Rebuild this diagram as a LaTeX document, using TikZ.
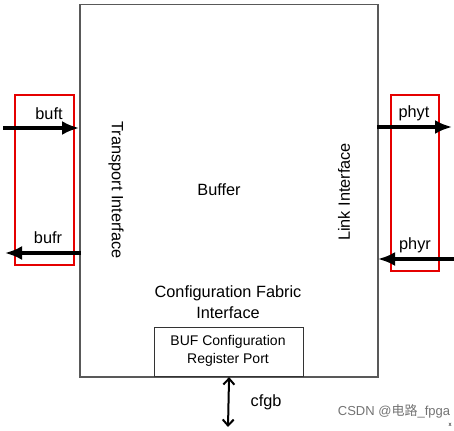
\documentclass[tikz,border=0pt]{standalone}
\usepackage{fontspec}
\setmainfont{Liberation Sans}
\newfontfamily\cjkfont{Noto Sans CJK SC}
\usetikzlibrary{arrows.meta}
\begin{document}
\begin{tikzpicture}[x=1pt,y=-1pt,
  lbl/.style={font=\fontsize{16.3}{19}\selectfont, inner sep=0pt},
  sig/.style={line width=3.2pt, -{Latex[length=17pt,width=14pt]}},
  redbox/.style={draw=red!90!black, line width=2.4pt},
  mainbox/.style={draw=black!65, line width=1.5pt}]
\useasboundingbox (0,0) rectangle (454,430);
% main box
\node[mainbox, minimum width=298pt, minimum height=372pt, anchor=north west, inner sep=0pt] (main) at (79,4) {};
% config box
\node[draw=black!80, line width=1.1pt, minimum width=149pt, minimum height=49pt, anchor=north west, inner sep=0pt] (cfgbox) at (154,327) {};
\node[lbl, align=center, font=\fontsize{14}{18.5}\selectfont] (cfgtxt) at (228,351) {BUF Configuration\\Register Port};
% texts
\node[lbl] (buffer) at (219,190) {Buffer};
\node[lbl, align=center, font=\fontsize{16.3}{21}\selectfont] (cfi) at (228,302) {Configuration Fabric\\Interface};
\node[lbl, rotate=-90] (tif) at (116,190) {Transport Interface};
\node[lbl, rotate=90] (lif) at (344,192) {Link Interface};
% red boxes
\node[redbox, minimum width=59pt, minimum height=170pt, anchor=north west, inner sep=0pt] (lred) at (14,94) {};
\node[redbox, minimum width=48pt, minimum height=176pt, anchor=north west, inner sep=0pt] (rred) at (390,94) {};
% coordinates
\coordinate (bufts) at (3,128);
\coordinate (buftt) at (79,128);
\coordinate (bufrs) at (81,253);
\coordinate (bufrt) at (5,253);
\coordinate (phyts) at (377,127);
\coordinate (phytt) at (452,127);
\coordinate (phyrs) at (454,259);
\coordinate (phyrt) at (378,259);
\coordinate (cfgt) at (228,427);
% arrows
\draw[sig] (bufts) -- (buftt);
\draw[sig] (bufrs) -- (bufrt);
\draw[sig] (phyts) -- (phytt);
\draw[sig] (phyrs) -- (phyrt);
\draw[line width=2pt, {Straight Barb[length=6pt,width=11pt]}-{Straight Barb[length=6pt,width=11pt]}] (cfgbox.south) -- (cfgt);
% labels
\node[lbl] (lbuft) at (49,114) {buft};
\node[lbl] (lbufr) at (48,238) {bufr};
\node[lbl] (lphyt) at (414,113) {phyt};
\node[lbl] (lphyr) at (415,245) {phyr};
\node[lbl] (lcfgb) at (266,402) {cfgb};
% watermark
\node[inner sep=0pt, text=black!55, font=\fontsize{13}{15}\selectfont] (wm) at (394,411) {CSDN @{\cjkfont 电路}\_fpga};
\node[inner sep=0pt, font=\fontsize{6}{7}\selectfont] (xx) at (450,425) {x};
\end{tikzpicture}
\end{document}
